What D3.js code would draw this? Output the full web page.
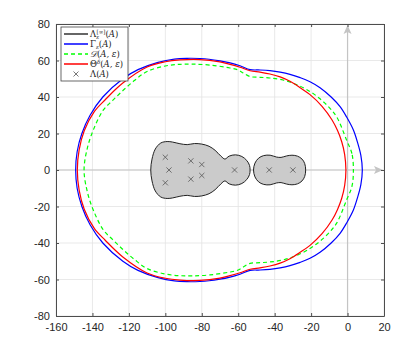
<!DOCTYPE html>
<html>
<head>
<meta charset="utf-8">
<script src="https://cdn.jsdelivr.net/npm/d3@7"></script>
<style>
  body { margin: 0; background: #fff; }
  svg { display: block; }
  .tick text { font-family: "Liberation Sans", Arial, sans-serif; }
</style>
</head>
<body>
<svg id="chart" width="415" height="342"></svg>
<script>
// upper halves (x, y); the curves are symmetric about y = 0
let gammaUpper = [[8.1,0],[7.3,8],[5.5,15],[3.2,21.9],[-0.5,29],[-4.1,34.7],[-9,40],[-15.1,45.1],[-20.6,48.4],
  [-26,50.6],[-31.6,52.4],[-37,53.6],[-42.6,54.4],[-48,54.8],[-53.5,55],[-59,57.1],[-65,58.8],[-70,59.8],
  [-76,60.7],[-81,61.1],[-88,61.2],[-95,60.8],[-104,59],[-115,55],[-123.3,50],[-134.3,40],[-141.3,30],
  [-145.8,20],[-148.4,10],[-149.2,0]];
let thetaUpper = [[-0.9,0],[-1.6,8.6],[-3.2,15.5],[-5.5,21.6],[-8.5,27.4],[-14,34.9],[-20.6,41.3],[-26,45.1],
  [-31.6,48.6],[-37,51],[-42.6,52.6],[-48,53.6],[-53.5,54.4],[-59,56.3],[-65,58],[-70,59.2],[-81,60.5],
  [-92,60.3],[-100,59.3],[-110,56.4],[-123.5,47.5],[-133,38.5],[-139,32],[-144.5,21.5],[-147.3,11],[-148.3,0]];
let dUpper = [[3.2,0],[2.4,9],[-0.5,16.3],[-5.9,29],[-10,34.2],[-15.1,39],[-20.6,43],[-27,46.4],[-35.4,49.3],
  [-42.6,50.4],[-48,50.8],[-53.5,51.2],[-57,53],[-60,54.8],[-64.5,55.9],[-75.5,57.5],[-85,58],[-92,57.9],
  [-100,57],[-110,54],[-117,49],[-123,43.8],[-129,38],[-134,32.9],[-139.5,22],[-142.8,12],[-144.6,0]];
let blob1Upper = [[-53.5,0],[-53.8,2.5],[-55.3,5.2],[-58,7.4],[-61.5,8.3],[-65,7.6],[-67.3,6],[-69.5,7.6],
  [-72.7,10.8],[-76,13],[-80,14.2],[-84,14.5],[-88,13.9],[-92,14.4],[-96,15.3],[-99,15.6],[-102.5,14.8],
  [-105.5,11.5],[-107.3,6],[-108,0]];
let blob2Upper = [[-23,0],[-23.5,3.5],[-25,6],[-27.5,7.6],[-30.5,8.1],[-33.5,7.7],[-36.5,6.9],[-39,7.1],
  [-42.5,8.1],[-46,7.9],[-48.8,6.5],[-50.8,3.8],[-51.6,0]];
// eigenvalues Λ(A)
let eigRe = [-100, -98, -100, -86, -86, -80, -80, -62, -43, -30];
let eigIm = [7, 0, -7, 5, -5, 3, -3, 0, 0, 0];

let xTicks = [-160, -140, -120, -100, -80, -60, -40, -20, 0, 20];
let yTicks = [-80, -60, -40, -20, 0, 20, 40, 60, 80];

// close a curve by reflecting its upper half
function closeCurve(upper){
  let lower = upper.slice(1, -1).reverse().map(function(p){ return [p[0], -p[1]]; });
  return upper.concat(lower);
}

let svg = d3.select("#chart");
let box = {left: 56, right: 384, top: 24, bottom: 316};

let x = d3.scaleLinear().domain([-160, 20]).range([box.left, box.right]);
let y = d3.scaleLinear().domain([-80, 80]).range([box.bottom, box.top]);

svg.append("rect").attr("width", 415).attr("height", 342).attr("fill", "#fff");

// grid
let grid = svg.append("g").attr("stroke", "#e3e3e3").attr("stroke-width", 0.8);
xTicks.forEach(function(t){
  grid.append("line").attr("x1", x(t)).attr("x2", x(t)).attr("y1", box.top).attr("y2", box.bottom);
});
yTicks.forEach(function(t){
  grid.append("line").attr("y1", y(t)).attr("y2", y(t)).attr("x1", box.left).attr("x2", box.right);
});

// axis arrows through the origin
let arrowCol = "#c4c4c4";
svg.append("line").attr("x1", box.left).attr("x2", box.right - 6).attr("y1", y(0)).attr("y2", y(0))
  .attr("stroke", arrowCol).attr("stroke-width", 1.2);
svg.append("path").attr("d", "M" + (box.right - 1) + "," + y(0) + " l-9,-4 l2,4 l-2,4 z").attr("fill", arrowCol);
svg.append("line").attr("x1", x(0)).attr("x2", x(0)).attr("y1", box.bottom).attr("y2", box.top + 6)
  .attr("stroke", arrowCol).attr("stroke-width", 1.2);
svg.append("path").attr("d", "M" + x(0) + "," + (box.top + 1) + " l-4,9 l4,-2 l4,2 z").attr("fill", arrowCol);

let line = d3.line().x(function(d){ return x(d[0]); }).y(function(d){ return y(d[1]); })
  .curve(d3.curveCatmullRomClosed.alpha(0.5));

// Λε[∞] sets
[blob1Upper, blob2Upper].forEach(function(b){
  svg.append("path").attr("d", line(closeCurve(b)))
    .attr("fill", "#cbcbcb").attr("stroke", "#222").attr("stroke-width", 1);
});

// eigenvalues
let cs = 2.6;
svg.append("g").selectAll("path").data(eigRe).enter().append("path")
  .attr("d", function(d, i){
    let cx = x(d), cy = y(eigIm[i]);
    return "M" + (cx - cs) + "," + (cy - cs) + "L" + (cx + cs) + "," + (cy + cs) +
      "M" + (cx - cs) + "," + (cy + cs) + "L" + (cx + cs) + "," + (cy - cs);
  })
  .attr("stroke", "#555").attr("stroke-width", 0.8).attr("fill", "none");

svg.append("path").attr("d", line(closeCurve(dUpper)))
  .attr("fill", "none").attr("stroke", "#00ff00").attr("stroke-width", 1.2).attr("stroke-dasharray", "4,3");
svg.append("path").attr("d", line(closeCurve(gammaUpper)))
  .attr("fill", "none").attr("stroke", "#0000ff").attr("stroke-width", 1.2);
svg.append("path").attr("d", line(closeCurve(thetaUpper)))
  .attr("fill", "none").attr("stroke", "#ff0000").attr("stroke-width", 1.2);

// axes (box with inward ticks)
let axCol = "#4d4d4d";
let fmt = function(d){ return String(d); };
let xAxis = svg.append("g").attr("transform", "translate(0," + box.bottom + ")")
  .call(d3.axisBottom(x).tickValues(xTicks).tickFormat(fmt).tickSizeInner(-3).tickSizeOuter(0).tickPadding(7));
let yAxis = svg.append("g").attr("transform", "translate(" + box.left + ",0)")
  .call(d3.axisLeft(y).tickValues(yTicks).tickFormat(fmt).tickSizeInner(-3).tickSizeOuter(0).tickPadding(6));
let xTop = svg.append("g").attr("transform", "translate(0," + box.top + ")")
  .call(d3.axisTop(x).tickValues(xTicks).tickSizeInner(-3).tickSizeOuter(0).tickFormat(""));
let yRight = svg.append("g").attr("transform", "translate(" + box.right + ",0)")
  .call(d3.axisRight(y).tickValues(yTicks).tickSizeInner(-3).tickSizeOuter(0).tickFormat(""));
[xAxis, yAxis, xTop, yRight].forEach(function(a){
  a.select(".domain").attr("stroke", axCol).attr("stroke-width", 1);
  a.selectAll(".tick line").attr("stroke", axCol);
  a.selectAll(".tick text").attr("fill", "#262626").attr("font-size", 11);
});

// legend
let lg = svg.append("g").attr("font-family", "'DejaVu Serif', 'Liberation Serif', serif").attr("font-size", 8.5).attr("fill", "#222");
lg.append("rect").attr("x", 61).attr("y", 27).attr("width", 67).attr("height", 54)
  .attr("fill", "#fff").attr("stroke", "#444").attr("stroke-width", 0.8);
let rows = [34, 44, 54, 64, 74];
let styles = [
  {col: "#333", dash: null},
  {col: "#0000ff", dash: null},
  {col: "#00ff00", dash: "4,3"},
  {col: "#ff0000", dash: null}
];
styles.forEach(function(s, i){
  let l = lg.append("line").attr("x1", 64).attr("x2", 88).attr("y1", rows[i]).attr("y2", rows[i])
    .attr("stroke", s.col).attr("stroke-width", 1.5);
  if(s.dash) l.attr("stroke-dasharray", s.dash);
});
lg.append("path").attr("d", "M" + (76 - 2.5) + "," + (rows[4] - 2.5) + "l5,5 M" + (76 - 2.5) + "," + (rows[4] + 2.5) + "l5,-5")
  .attr("stroke", "#555").attr("stroke-width", 0.8);

function label(row){
  return lg.append("text").attr("x", 90).attr("y", rows[row] + 3);
}
let t0 = label(0);
t0.append("tspan").text("Λ");
t0.append("tspan").attr("font-size", 5.5).attr("font-style", "italic").attr("dy", 2).text("ε");
t0.append("tspan").attr("font-size", 5.5).attr("dx", -2.5).attr("dy", -5.5).text("[∞]");
t0.append("tspan").attr("dy", 3.5).text("(");
t0.append("tspan").attr("font-style", "italic").text("A");
t0.append("tspan").text(")");

let t1 = label(1);
t1.append("tspan").text("Γ");
t1.append("tspan").attr("font-size", 5.5).attr("font-style", "italic").attr("dy", 2).text("ε");
t1.append("tspan").attr("dy", -2).text("(");
t1.append("tspan").attr("font-style", "italic").text("A");
t1.append("tspan").text(")");

let t2 = label(2);
t2.append("tspan").attr("font-style", "italic").text("𝒟");
t2.append("tspan").text("(");
t2.append("tspan").attr("font-style", "italic").text("A, ε");
t2.append("tspan").text(")");

let t3 = label(3);
t3.append("tspan").text("Θ");
t3.append("tspan").attr("font-size", 5.5).attr("font-style", "italic").attr("dy", -3.5).text("δ");
t3.append("tspan").attr("dy", 3.5).text("(");
t3.append("tspan").attr("font-style", "italic").text("A, ε");
t3.append("tspan").text(")");

let t4 = label(4);
t4.append("tspan").text("Λ(");
t4.append("tspan").attr("font-style", "italic").text("A");
t4.append("tspan").text(")");
</script>
</body>
</html>
